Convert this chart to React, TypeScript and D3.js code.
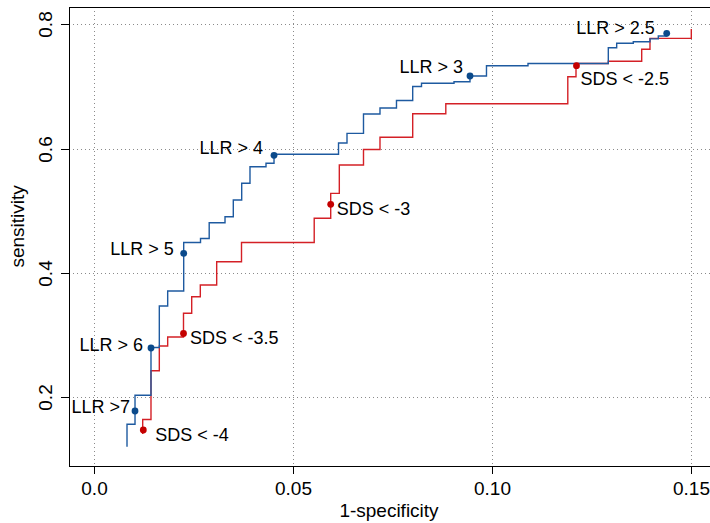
import React, { useEffect, useRef } from 'react';
import * as d3 from 'd3';

// LLR curve (blue): corner points of the step curve
const llrFpr = [0.00836, 0.00836, 0.01037, 0.01438, 0.01647, 0.01857, 0.02259, 0.02681, 0.02899, 0.03296, 0.03504, 0.03715, 0.03923, 0.04325, 0.04526, 0.06145, 0.06358, 0.06772, 0.07186, 0.076, 0.08007, 0.08228, 0.09044, 0.09445, 0.09859, 0.10901, 0.12917, 0.13127, 0.13544, 0.13963, 0.14172, 0.14383];
const llrTpr = [0.1205, 0.1566, 0.2032, 0.2801, 0.3469, 0.371, 0.449, 0.4554, 0.4807, 0.4905, 0.5174, 0.5442, 0.5709, 0.5764, 0.5909, 0.609, 0.6246, 0.6557, 0.6653, 0.6774, 0.6999, 0.7051, 0.7075, 0.7168, 0.7334, 0.7369, 0.7623, 0.7694, 0.772, 0.7766, 0.7811, 0.7855];

// SDS curve (red)
const sdsFpr = [0.0123, 0.0123, 0.01438, 0.01647, 0.01857, 0.02254, 0.0246, 0.02676, 0.03087, 0.0371, 0.05535, 0.05949, 0.06165, 0.06772, 0.07186, 0.08007, 0.08838, 0.119, 0.12106, 0.12917, 0.13755, 0.13963, 0.15];
const sdsTpr = [0.141, 0.1643, 0.2428, 0.2825, 0.297, 0.3351, 0.3618, 0.3806, 0.4181, 0.449, 0.4879, 0.5281, 0.5737, 0.5986, 0.6182, 0.656, 0.6723, 0.7157, 0.7369, 0.7405, 0.7598, 0.7774, 0.7924];

// cut-off points
const llrCutLabels = ['LLR >7', 'LLR > 6', 'LLR > 5', 'LLR > 4', 'LLR > 3', 'LLR > 2.5'];
const llrCutFpr = [0.01037, 0.01438, 0.02259, 0.04526, 0.09445, 0.14383];
const llrCutTpr = [0.178, 0.2793, 0.4316, 0.5893, 0.7168, 0.7855];

const sdsCutLabels = ['SDS < -4', 'SDS < -3.5', 'SDS < -3', 'SDS < -2.5'];
const sdsCutFpr = [0.01245, 0.02254, 0.05949, 0.12118];
const sdsCutTpr = [0.1474, 0.3026, 0.5104, 0.7334];

const xTicks = [0, 0.05, 0.1, 0.15];
const xTickLabels = ['0.0', '0.05', '0.10', '0.15'];
const yTicks = [0.2, 0.4, 0.6, 0.8];
const yTickLabels = ['0.2', '0.4', '0.6', '0.8'];

// label nudges in px (dx, dy of text centre from the point)
const llrNudge = [[-5, -4], [-8, -3], [-10, -5], [-11, -8], [-7, -9], [-12, -6]];
const sdsNudge = [[12, 5], [6.5, 4.5], [6, 4.4], [4, 13]];

const W = 710;
const H = 523;
const frame = { left: 69, right: 716, top: 7, bottom: 466 };
const font = '"Liberation Sans", Arial, Helvetica, sans-serif';

export default function App() {
  const ref = useRef<SVGSVGElement>(null);

  useEffect(() => {
    const svg = d3.select(ref.current);
    svg.selectAll('*').remove();

    const x = d3.scaleLinear().domain([0, 0.15]).range([93.7, 691.3]);
    const y = d3.scaleLinear().domain([0.2, 0.8]).range([397.3, 24.3]);

    // grid
    const grid = svg.append('g')
      .attr('stroke', '#8a8a8a')
      .attr('stroke-width', 1)
      .attr('stroke-dasharray', '1,3');
    xTicks.forEach(t => {
      grid.append('line')
        .attr('x1', Math.round(x(t)) + 0.5).attr('x2', Math.round(x(t)) + 0.5)
        .attr('y1', frame.top).attr('y2', frame.bottom);
    });
    yTicks.forEach(t => {
      grid.append('line')
        .attr('y1', Math.round(y(t)) + 0.5).attr('y2', Math.round(y(t)) + 0.5)
        .attr('x1', frame.left).attr('x2', frame.right);
    });

    const line = d3.line<[number, number]>()
      .x(d => x(d[0]))
      .y(d => y(d[1]))
      .curve(d3.curveStepAfter);

    // SDS curve
    svg.append('path')
      .datum(sdsFpr.map((f, i) => [f, sdsTpr[i]] as [number, number]))
      .attr('d', line)
      .attr('fill', 'none')
      .attr('stroke', '#d42026')
      .attr('stroke-width', 1.4);

    // LLR curve
    svg.append('path')
      .datum(llrFpr.map((f, i) => [f, llrTpr[i]] as [number, number]))
      .attr('d', line)
      .attr('fill', 'none')
      .attr('stroke', '#1e5aa0')
      .attr('stroke-width', 1.4);

    // points + labels
    const addPoints = (fpr: number[], tpr: number[], labels: string[], nudge: number[][], col: string, anchor: string) => {
      fpr.forEach((f, i) => {
        svg.append('circle')
          .attr('cx', x(f)).attr('cy', y(tpr[i]))
          .attr('r', 3.4)
          .attr('fill', col);
        svg.append('text')
          .attr('x', x(f) + nudge[i][0])
          .attr('y', y(tpr[i]) + nudge[i][1] + 6.4)
          .attr('text-anchor', anchor)
          .attr('font-family', font)
          .attr('font-size', 18)
          .attr('fill', '#000')
          .text(labels[i]);
      });
    };
    addPoints(llrCutFpr, llrCutTpr, llrCutLabels, llrNudge, '#0b4a8b', 'end');
    addPoints(sdsCutFpr, sdsCutTpr, sdsCutLabels, sdsNudge, '#c40000', 'start');

    // box
    svg.append('rect')
      .attr('x', frame.left + 0.5).attr('y', frame.top + 0.5)
      .attr('width', frame.right - frame.left).attr('height', frame.bottom - frame.top)
      .attr('fill', 'none')
      .attr('stroke', '#000')
      .attr('stroke-width', 1);

    // x axis
    const xa = svg.append('g');
    xTicks.forEach((t, i) => {
      const px = Math.round(x(t)) + 0.5;
      xa.append('line')
        .attr('x1', px).attr('x2', px)
        .attr('y1', frame.bottom).attr('y2', frame.bottom + 8)
        .attr('stroke', '#000');
      xa.append('text')
        .attr('x', px).attr('y', 495)
        .attr('text-anchor', 'middle')
        .attr('font-family', font)
        .attr('font-size', 19)
        .text(xTickLabels[i]);
    });
    svg.append('text')
      .attr('x', 389).attr('y', 517)
      .attr('text-anchor', 'middle')
      .attr('font-family', font)
      .attr('font-size', 19)
      .text('1-specificity');

    // y axis
    const ya = svg.append('g');
    yTicks.forEach((t, i) => {
      const py = Math.round(y(t)) + 0.5;
      ya.append('line')
        .attr('x1', frame.left - 8).attr('x2', frame.left)
        .attr('y1', py).attr('y2', py)
        .attr('stroke', '#000');
      ya.append('text')
        .attr('transform', `translate(51.5,${py}) rotate(-90)`)
        .attr('text-anchor', 'middle')
        .attr('font-family', font)
        .attr('font-size', 19)
        .text(yTickLabels[i]);
    });
    svg.append('text')
      .attr('transform', `translate(24,${y(0.475)}) rotate(-90)`)
      .attr('text-anchor', 'middle')
      .attr('font-family', font)
      .attr('font-size', 19)
      .text('sensitivity');
  }, []);

  return (
    <>
      <style>{'body{margin:0}'}</style>
      <svg ref={ref} width={W} height={H} style={{ display: 'block', background: '#fff' }} />
    </>
  );
}
